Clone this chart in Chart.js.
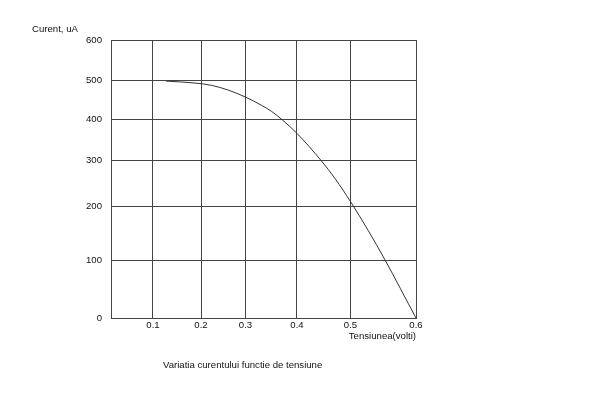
<!DOCTYPE html>
<html>
<head>
<meta charset="utf-8">
<script src="https://cdn.jsdelivr.net/npm/chart.js@4/dist/chart.umd.min.js"></script>
<style>
  html, body { margin: 0; padding: 0; background: #fff; }
  canvas { display: block; }
</style>
</head>
<body>
<canvas id="c" width="604" height="394"></canvas>
<script>
// ---- data ----
const voltage = [0.127, 0.1875, 0.224, 0.261, 0.300, 0.331, 0.351, 0.372, 0.400, 0.445, 0.472, 0.500, 0.527, 0.552, 0.600];
const current = [499, 494, 488, 476, 458, 437, 421, 399, 366, 299, 259, 211, 156, 103, 0];
const xTickValues = [0.1, 0.2, 0.3, 0.4, 0.5, 0.6];
const xTickLabels = ['0.1', '0.2', '0.3', '0.4', '0.5', '0.6'];
const yTickValues = [0, 100, 200, 300, 400, 500, 600];
const yTickLabels = ['0', '100', '200', '300', '400', '500', '600'];
const yAxisTitle = 'Curent, uA';
const xAxisTitle = 'Tensiunea(volti)';
const chartTitle = 'Variatia curentului functie de tensiune';

// ---- hand-drawn (uneven) grid: where each tick value sits along its axis (0..1) ----
const xKnots = { values: [0, 0.1, 0.2, 0.3, 0.4, 0.5, 0.6], fracs: [0, 0.1377, 0.2951, 0.4410, 0.6098, 0.7852, 1] };
const yKnots = { values: [0, 100, 200, 300, 400, 500, 600], fracs: [0, 0.2061, 0.4004, 0.5683, 0.7133, 0.8536, 1] };

function interp(v, k) {
  const vs = k.values, fs = k.fracs;
  if (v <= vs[0]) return fs[0] + (v - vs[0]) / (vs[1] - vs[0]) * (fs[1] - fs[0]);
  for (let i = 1; i < vs.length; i++) {
    if (v <= vs[i]) return fs[i - 1] + (v - vs[i - 1]) / (vs[i] - vs[i - 1]) * (fs[i] - fs[i - 1]);
  }
  const n = vs.length - 1;
  return fs[n] + (v - vs[n]) / (vs[n] - vs[n - 1]) * (fs[n] - fs[n - 1]);
}
function invInterp(d, k) {
  return interp(d, { values: k.fracs, fracs: k.values });
}
function piecewise(scale, knots, tickValues) {
  scale.ticks = tickValues.map(v => ({ value: v }));
  scale.getPixelForValue = function (v) {
    if (v === null || v === undefined || isNaN(v)) return NaN;
    return this.getPixelForDecimal(interp(v, knots));
  };
  scale.getValueForPixel = function (p) {
    return invInterp(this.getDecimalForPixel(p), knots);
  };
}

const FONT = '"Liberation Sans", Arial, sans-serif';
const FSIZE = 9.6;

const textPlugin = {
  id: 'texts',
  beforeDraw(chart) {
    const ctx = chart.ctx;
    ctx.save();
    ctx.fillStyle = '#fff';
    ctx.fillRect(0, 0, chart.width, chart.height);
    ctx.restore();
  },
  afterDraw(chart) {
    const ctx = chart.ctx;
    const a = chart.chartArea;
    ctx.save();
    ctx.fillStyle = '#111';
    ctx.font = FSIZE + 'px ' + FONT;
    ctx.textBaseline = 'middle';
    ctx.textAlign = 'left';
    ctx.fillText(yAxisTitle, 32, 29);
    ctx.textAlign = 'right';
    ctx.fillText(xAxisTitle, a.right, a.bottom + 18);
    ctx.textAlign = 'left';
    ctx.fillText(chartTitle, 163, 365);
    ctx.restore();
  }
};

new Chart(document.getElementById('c'), {
  type: 'line',
  data: {
    datasets: [{
      data: voltage.map((x, i) => ({ x: x, y: current[i] })),
      borderColor: '#333',
      borderWidth: 1,
      pointRadius: 0,
      cubicInterpolationMode: 'monotone',
      fill: false
    }]
  },
  options: {
    responsive: false,
    animation: false,
    events: [],
    layout: { padding: { left: 0, top: 40, right: 188, bottom: 0 } },
    plugins: { legend: { display: false }, tooltip: { enabled: false }, title: { display: false } },
    scales: {
      x: {
        type: 'linear',
        min: 0, max: 0.6,
        afterBuildTicks: s => piecewise(s, xKnots, xTickValues),
        afterFit: s => { s.height = 76; },
        grid: { color: '#444', lineWidth: 1, drawTicks: false },
        border: { color: '#444', width: 1 },
        ticks: {
          font: { family: FONT, size: FSIZE },
          color: '#111',
          padding: 2,
          maxRotation: 0,
          autoSkip: false,
          callback: (v, i) => xTickLabels[i]
        }
      },
      y: {
        type: 'linear',
        min: 0, max: 600,
        afterBuildTicks: s => piecewise(s, yKnots, yTickValues),
        afterFit: s => { s.width = 111; },
        grid: { color: '#444', lineWidth: 1, drawTicks: false },
        border: { color: '#444', width: 1 },
        ticks: {
          font: { family: FONT, size: FSIZE },
          color: '#111',
          padding: 9,
          autoSkip: false,
          callback: (v, i) => yTickLabels[i]
        }
      }
    }
  },
  plugins: [textPlugin]
});
</script>
</body>
</html>
